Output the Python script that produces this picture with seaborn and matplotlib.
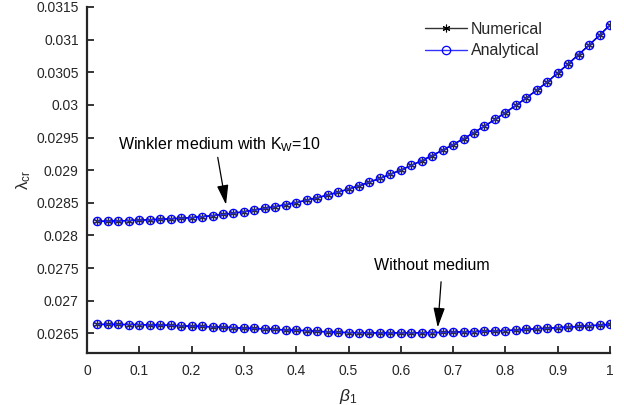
import numpy as np
import pandas as pd
import matplotlib
matplotlib.use("Agg")
import matplotlib.pyplot as plt
from matplotlib.ticker import FuncFormatter
from matplotlib.lines import Line2D
import seaborn as sns

beta1 = np.round(np.arange(1, 51) * 0.02, 2)

winkler = [0.028217, 0.028220, 0.028224, 0.028229, 0.028235, 0.028241, 0.028248, 0.028256, 0.028264, 0.028274,
           0.028288, 0.028304, 0.028322, 0.028342, 0.028364, 0.028389, 0.028415, 0.028443, 0.028473, 0.028505,
           0.028540, 0.028578, 0.028619, 0.028663, 0.028711, 0.028762, 0.028817, 0.028875, 0.028937, 0.029003,
           0.029073, 0.029147, 0.029225, 0.029307, 0.029393, 0.029483, 0.029577, 0.029675, 0.029777, 0.029883,
           0.029993, 0.030108, 0.030227, 0.030351, 0.030490, 0.030628, 0.030771, 0.030917, 0.031068, 0.031225]

without = [0.026638, 0.026638, 0.026637, 0.026636, 0.026635, 0.026630, 0.026627, 0.026624, 0.026615, 0.026612,
           0.026608, 0.026600, 0.026596, 0.026588, 0.026580, 0.026576, 0.026570, 0.026562, 0.026553, 0.026549,
           0.026541, 0.026533, 0.026523, 0.026518, 0.026512, 0.026510, 0.026509, 0.026508, 0.026508, 0.026508,
           0.026509, 0.026510, 0.026512, 0.026515, 0.026520, 0.026524, 0.026528, 0.026532, 0.026537, 0.026544,
           0.026551, 0.026561, 0.026571, 0.026579, 0.026587, 0.026597, 0.026607, 0.026617, 0.026627, 0.026637]

numerical_winkler = winkler
analytical_winkler = winkler
numerical_without = without
analytical_without = without

series_labels = ["Numerical", "Analytical"]
x_ticks = [0, 0.1, 0.2, 0.3, 0.4, 0.5, 0.6, 0.7, 0.8, 0.9, 1]
y_ticks = [0.0265, 0.027, 0.0275, 0.028, 0.0285, 0.029, 0.0295, 0.03, 0.0305, 0.031, 0.0315]

sns.set_style("white")
plt.rcParams['font.family'] = ['Liberation Sans', 'DejaVu Sans']
plt.rcParams['mathtext.fontset'] = 'custom'
plt.rcParams['mathtext.rm'] = 'Liberation Sans'
plt.rcParams['mathtext.it'] = 'Liberation Sans:italic'
plt.rcParams['mathtext.bf'] = 'Liberation Sans:bold'

axc = '#262626'
fig = plt.figure(figsize=(6.24, 4.05), dpi=100)
ax = fig.add_axes([87/624, 1-353/405, (610-87)/624, (353-7)/405])

star = (6, 2, 0)
for yv_num, yv_ana in [(numerical_without, analytical_without), (numerical_winkler, analytical_winkler)]:
    sns.lineplot(x=beta1, y=yv_num, ax=ax, color='black', lw=1.0, marker=star,
                 markersize=5.5, markeredgecolor='black', markeredgewidth=0.8, legend=False)
    sns.lineplot(x=beta1, y=yv_ana, ax=ax, color='blue', lw=1.0, marker='o',
                 markersize=6, markerfacecolor=(0.45, 0.45, 0.75, 0.35), markeredgecolor='blue',
                 markeredgewidth=0.9, legend=False)

ax.set_xlim(0, 1)
ax.set_ylim(0.0262, 0.0315)
ax.set_xticks(x_ticks)
ax.set_yticks(y_ticks)
fmt = FuncFormatter(lambda v, p: f"{v:g}")
ax.xaxis.set_major_formatter(fmt)
ax.yaxis.set_major_formatter(fmt)

for s in ['top', 'right']:
    ax.spines[s].set_visible(False)
for s in ['left', 'bottom']:
    ax.spines[s].set_color(axc)
    ax.spines[s].set_linewidth(1.6)
ax.tick_params(direction='in', length=5, width=1.3, colors=axc, labelsize=10, pad=6,
               left=True, bottom=True)
ax.tick_params(axis='x', pad=8)

ax.set_ylabel(r'λ$_{\mathrm{cr}}$', fontsize=12, color=axc)
ax.yaxis.set_label_coords(-0.103, 0.5)
ax.set_xlabel(r'$\mathit{β}_{\mathrm{1}}$', fontsize=12.5, color=axc)
ax.xaxis.set_label_coords(0.5, -0.098)

handles = [Line2D([], [], color='#333333', lw=1.0, marker=star, markersize=5.5, markeredgecolor='black', markeredgewidth=0.8),
           Line2D([], [], color='#3333ff', lw=1.0, marker='o', markersize=6, markerfacecolor='none',
                  markeredgecolor='blue', markeredgewidth=0.9)]
ax.legend(handles, series_labels, loc='center left', bbox_to_anchor=(0.6463, 0.905), frameon=False,
          fontsize=11.5, borderpad=0, borderaxespad=0, handlelength=2.6, handletextpad=0.25,
          labelspacing=0.42)

arrow_style = '-|>,head_length=0.75,head_width=0.22'
ax.annotate(r'Winkler medium with K$_{\mathrm{W}}$=10', xy=(0.2658, 0.028472), xytext=(0.0593, 0.02939),
            fontsize=11.5, ha='left', va='center', color='black',
            arrowprops=dict(arrowstyle=arrow_style, color='black', lw=0.9, mutation_scale=16,
                            shrinkA=0, shrinkB=0, relpos=(0.49, 0.0)))
ax.annotate('Without medium', xy=(0.6706, 0.026592), xytext=(0.5488, 0.027544),
            fontsize=11.5, ha='left', va='center', color='black',
            arrowprops=dict(arrowstyle=arrow_style, color='black', lw=0.9, mutation_scale=16,
                            shrinkA=0, shrinkB=0, relpos=(0.58, -0.6)))

fig.savefig('out.png', dpi=100)
